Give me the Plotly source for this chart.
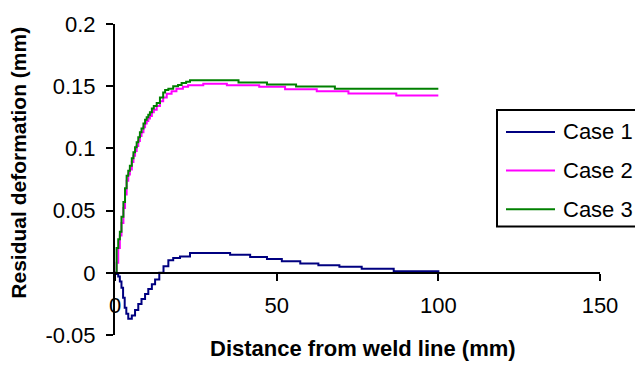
import plotly.graph_objects as go

# ---------------- data ----------------
series_names = ["Case 1", "Case 2", "Case 3"]
series_colors = ["#000080", "#FF00FF", "#008000"]

case1_x = [0, 0.5, 1, 1.5, 2, 2.5, 3, 3.5, 4.1, 5.2, 6.2, 7.2, 8.2, 9.3, 10.3, 11.4, 12.4, 13.7,
           15, 16.5, 18, 20.1, 23.2, 35.6, 41.8, 47, 51.6, 57.3, 62.9, 69.4, 76.3, 86.2, 98.5, 100]
case1_y = [0, -0.001, -0.003, -0.007, -0.012, -0.02, -0.028, -0.033, -0.037, -0.0344, -0.030,
           -0.025, -0.021, -0.017, -0.013, -0.0092, -0.0053, 0, 0.0053, 0.010, 0.0119, 0.0132,
           0.016, 0.0146, 0.0127, 0.011, 0.0093, 0.0074, 0.0061, 0.0048, 0.0032, 0.0013, 0.0013, 0]

case2_x = [0, 0.5, 1, 1.5, 2, 2.6, 3.1, 3.6, 4.1, 4.6, 5.2, 5.7, 6.2, 6.7, 7.2, 7.7, 8.2, 8.8,
           9.3, 9.8, 10.3, 10.8, 11.4, 12, 12.9, 13.9, 14.9, 16, 17.5, 19, 21, 22.6, 27.3, 34.6,
           44.6, 52.6, 62.4, 72.2, 87, 100]
case2_y = [0, 0.008, 0.02, 0.03, 0.04, 0.052, 0.063, 0.074, 0.079, 0.083, 0.089, 0.094, 0.098,
           0.102, 0.106, 0.11, 0.113, 0.117, 0.12, 0.122, 0.124, 0.126, 0.129, 0.131, 0.134,
           0.138, 0.141, 0.144, 0.146, 0.148, 0.1495, 0.1508, 0.152, 0.1508, 0.1495, 0.1476,
           0.146, 0.1442, 0.1426, 0.1426]

case3_x = [0, 0.5, 1, 1.5, 2, 2.6, 3.1, 3.6, 4.1, 4.6, 5.2, 5.7, 6.2, 6.7, 7.2, 7.7, 8.2, 8.8,
           9.3, 9.8, 10.3, 10.8, 11.4, 12, 12.9, 13.9, 14.9, 15.5, 16.5, 18, 19.5, 20.6, 22,
           23.2, 38.2, 47, 56, 68, 100]
case3_y = [0, 0.02, 0.027, 0.033, 0.045, 0.057, 0.068, 0.078, 0.082, 0.086, 0.092, 0.097, 0.101,
           0.105, 0.109, 0.113, 0.116, 0.12, 0.123, 0.125, 0.127, 0.129, 0.132, 0.134, 0.1365,
           0.141, 0.145, 0.147, 0.148, 0.150, 0.151, 0.1525, 0.1535, 0.1548, 0.1529, 0.1513,
           0.1498, 0.1479, 0.1479]

x_tickvals = [0, 50, 100, 150]
x_ticktext = ["0", "50", "100", "150"]
y_tickvals = [-0.05, 0, 0.05, 0.1, 0.15, 0.2]
y_ticktext = ["-0.05", "0", "0.05", "0.1", "0.15", "0.2"]

x_title = "Distance from weld line (mm)"
y_title = "Residual deformation (mm)"

# ---------------- layout constants ----------------
W, H = 635, 365
ML, MR, MT, MB = 115, 35, 20, 30
PW, PH = W - ML - MR, H - MT - MB
FONT = "Liberation Sans, Arial, Helvetica, sans-serif"


def px_x(p):
    return (p - ML) / PW


def px_y(p):
    return (H - MB - p) / PH


fig = go.Figure()
series = [(case1_x, case1_y), (case2_x, case2_y), (case3_x, case3_y)]
for (xs, ys), name, color in zip(series, series_names, series_colors):
    fig.add_trace(go.Scatter(x=xs, y=ys, mode="lines", name=name,
                             line=dict(color=color, width=2, shape="hv"),
                             showlegend=False))

y_min, y_max = -0.05, 0.2
fig.update_layout(
    width=W, height=H,
    margin=dict(l=ML, r=MR, t=MT, b=MB, pad=0),
    paper_bgcolor="white", plot_bgcolor="white",
    font=dict(family=FONT, size=22, color="black"),
    xaxis=dict(range=[0, 150], tickvals=x_tickvals, ticktext=x_ticktext,
               showgrid=False, zeroline=False, showline=True, linecolor="black",
               linewidth=2, ticks="outside", ticklen=7, tickwidth=2, tickcolor="black",
               anchor="free", position=(0 - y_min) / (y_max - y_min),
               ticklabelstandoff=6, tickfont=dict(size=22)),
    yaxis=dict(range=[y_min, y_max], tickvals=y_tickvals, ticktext=y_ticktext,
               showgrid=False, zeroline=False, showline=True, linecolor="black",
               linewidth=2, ticks="outside", ticklen=7, tickwidth=2, tickcolor="black",
               ticklabelstandoff=6, tickfont=dict(size=22)),
)

annotations = [
    dict(text="<b>" + x_title + "</b>", x=px_x(363), y=px_y(349), xref="paper", yref="paper",
         xanchor="center", yanchor="middle", showarrow=False, font=dict(size=22)),
    dict(text="<b>" + y_title + "</b>", x=px_x(19), y=px_y(160.5), xref="paper", yref="paper",
         xanchor="center", yanchor="middle", showarrow=False, textangle=-90,
         font=dict(size=21)),
]

# legend drawn as a box with sample lines
shapes = [dict(type="rect", xref="paper", yref="paper", x0=px_x(497), x1=px_x(650),
               y0=px_y(225), y1=px_y(107), line=dict(color="black", width=2),
               fillcolor="white", layer="above")]
legend_rows = [129.3, 168.3, 207.7]
for name, color, yy in zip(series_names, series_colors, legend_rows):
    shapes.append(dict(type="line", xref="paper", yref="paper", x0=px_x(506), x1=px_x(555),
                       y0=px_y(yy), y1=px_y(yy), line=dict(color=color, width=2),
                       layer="above"))
    annotations.append(dict(text=name, x=px_x(561), y=px_y(yy), xref="paper", yref="paper",
                            xanchor="left", yanchor="middle", showarrow=False,
                            font=dict(size=22)))

fig.update_layout(shapes=shapes, annotations=annotations)
fig.write_html("out.html")
